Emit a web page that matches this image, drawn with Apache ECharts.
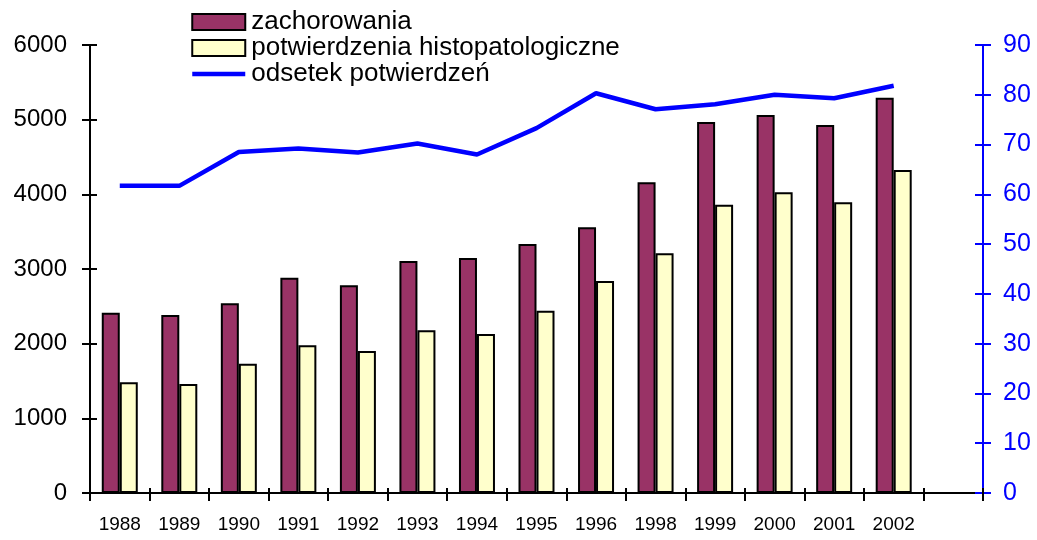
<!DOCTYPE html>
<html>
<head>
<meta charset="utf-8">
<script src="https://cdn.jsdelivr.net/npm/echarts@6/dist/echarts.min.js"></script>
<style>
  html, body { margin: 0; padding: 0; background: #fff; }
  #chart { width: 1037px; height: 540px; }
</style>
</head>
<body>
<div id="chart"></div>
<script>
// lata (1997 brak w danych), ostatnia pusta kategoria jak w oryginale
const years = ['1988', '1989', '1990', '1991', '1992', '1993', '1994', '1995', '1996', '1998', '1999', '2000', '2001', '2002', '']
const zachorowania = [2415, 2384, 2540, 2884, 2782, 3107, 3147, 3335, 3558, 4161, 4969, 5062, 4928, 5294, '-']
const potwierdzenia = [1482, 1460, 1732, 1978, 1902, 2179, 2129, 2442, 2839, 3210, 3861, 4027, 3893, 4326, '-']
const odsetek = [61.7, 61.7, 68.5, 69.2, 68.4, 70.2, 68.0, 73.3, 80.3, 77.1, 78.1, 80.0, 79.3, 81.8, '-']

const font = 'Liberation Sans, Arial, sans-serif'

const chart = echarts.init(document.getElementById('chart'))

// wspolne ustawienia osi Y (druga kopia rysuje tylko kreski do srodka)
const leftAxis = { type: 'value', min: 0, max: 6000, interval: 1000, position: 'left' }
const rightAxis = { type: 'value', min: 0, max: 90, interval: 10, position: 'right' }

chart.setOption({
  animation: false,
  textStyle: { fontFamily: font },
  grid: { left: 90, right: 54, top: 45, bottom: 47, containLabel: false },
  legend: {
    orient: 'vertical',
    left: 190,
    top: 9,
    padding: 0,
    itemWidth: 53,
    itemHeight: 16,
    itemGap: 0,
    textStyle: { fontSize: 26, lineHeight: 26, color: '#000', fontFamily: font, padding: [0, 0, 0, 1] },
    data: [
      { name: 'zachorowania', icon: 'rect' },
      { name: 'potwierdzenia histopatologiczne', icon: 'rect' },
      {
        name: 'odsetek potwierdzeń',
        itemStyle: { color: 'rgba(0,0,0,0)', borderWidth: 0 },
        lineStyle: { color: '#0000FF', width: 4.5 },
      },
    ],
  },
  xAxis: [{
    type: 'category',
    data: years,
    boundaryGap: true,
    axisLine: { lineStyle: { color: '#000', width: 2 } },
    axisTick: { show: true, length: 8, lineStyle: { color: '#000', width: 2 } },
    axisLabel: { interval: 0, fontSize: 19, color: '#000', margin: 22, fontFamily: font },
  }, {
    type: 'category',
    data: years,
    position: 'bottom',
    axisLine: { show: false },
    axisTick: { show: true, inside: true, length: 5, lineStyle: { color: '#000', width: 2 } },
    axisLabel: { show: false },
  }],
  yAxis: [Object.assign({}, leftAxis, {
    axisLine: { show: true, lineStyle: { color: '#000', width: 2 } },
    axisTick: { show: true, length: 8, lineStyle: { color: '#000', width: 2 } },
    axisLabel: { fontSize: 24, color: '#000', margin: 23, fontFamily: font, formatter: v => String(v) },
    splitLine: { show: false },
  }), Object.assign({}, rightAxis, {
    axisLine: { show: true, lineStyle: { color: '#0000FF', width: 2 } },
    axisTick: { show: true, length: 8, lineStyle: { color: '#0000FF', width: 2 } },
    axisLabel: { fontSize: 25, color: '#0000FF', margin: 20, fontFamily: font },
    splitLine: { show: false },
  }), Object.assign({}, leftAxis, {
    axisLine: { show: false },
    axisTick: { show: true, inside: true, length: 7, lineStyle: { color: '#000', width: 2 } },
    axisLabel: { show: false },
    splitLine: { show: false },
  }), Object.assign({}, rightAxis, {
    axisLine: { show: false },
    axisTick: { show: true, inside: true, length: 8, lineStyle: { color: '#0000FF', width: 2 } },
    axisLabel: { show: false },
    splitLine: { show: false },
  })],
  series: [{
    name: 'zachorowania',
    type: 'bar',
    barWidth: 18,
    barGap: '0%',
    itemStyle: { color: '#993366', borderColor: '#000', borderWidth: 2 },
    data: zachorowania,
  }, {
    name: 'potwierdzenia histopatologiczne',
    type: 'bar',
    barWidth: 18,
    barGap: '0%',
    itemStyle: { color: '#FFFFCC', borderColor: '#000', borderWidth: 2 },
    data: potwierdzenia,
  }, {
    name: 'odsetek potwierdzeń',
    type: 'line',
    yAxisIndex: 1,
    symbol: 'none',
    lineStyle: { color: '#0000FF', width: 4.5 },
    itemStyle: { color: '#0000FF' },
    data: odsetek,
  }],
})
</script>
</body>
</html>
